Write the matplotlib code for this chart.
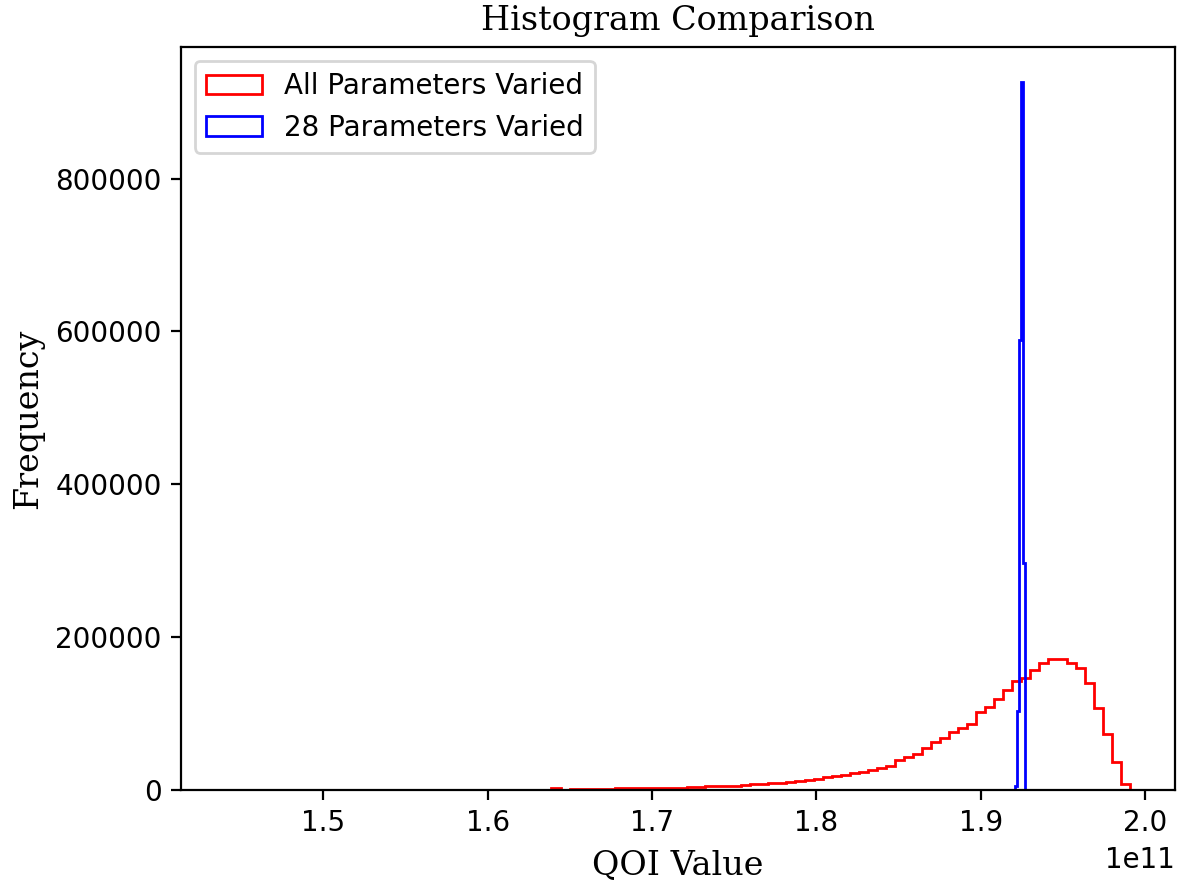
import numpy as np
import matplotlib
matplotlib.use("Agg")
import matplotlib.pyplot as plt

# ---- data ----
red_label = "All Parameters Varied"
blue_label = "28 Parameters Varied"

red_min = 1.441e11
red_max = 1.9906e11
red_counts = [
    300, 0, 0, 0, 0, 0, 0, 0, 0, 0,
    0, 100, 0, 0, 0, 0, 0, 0, 0, 0,
    0, 0, 0, 0, 200, 0, 0, 0, 0, 0,
    300, 0, 0, 0, 400, 500, 3000, 0, 1400, 1500,
    1700, 1800, 1800, 2000, 2100, 2300, 2300, 2500, 2600, 2800,
    2900, 4300, 4500, 4700, 4900, 5100, 5400, 7000, 7400, 7800,
    9400, 9800, 10200, 12000, 12600, 15000, 17500, 18200, 20000, 22300,
    24200, 26300, 29000, 32000, 39000, 43000, 46500, 55300, 63100, 68300,
    76200, 81400, 86700, 101900, 108400, 119400, 130300, 142100, 146400, 156500,
    166500, 172000, 171500, 166500, 160000, 140400, 107600, 72700, 36400, 7200,
]

blue_edges = [1.92060e11, 1.92175e11, 1.92300e11, 1.92440e11, 1.92580e11, 1.92710e11]
blue_counts = [5000, 104000, 589000, 926000, 297000]

# ---- figure ----
fig = plt.figure(figsize=(11.79 / 2, 8.82 / 2), dpi=200)
ax = fig.add_axes([181 / 1179, 1 - 790 / 882, (1175 - 181) / 1179, (790 - 47) / 882])

red_edges = np.linspace(red_min, red_max, len(red_counts) + 1)
red_centers = 0.5 * (red_edges[:-1] + red_edges[1:])
be = np.array(blue_edges)
blue_centers = 0.5 * (be[:-1] + be[1:])

ax.hist(red_centers, bins=red_edges, weights=red_counts, histtype="step",
        color="red", label=red_label)
ax.hist(blue_centers, bins=be, weights=blue_counts, histtype="step",
        color="blue", label=blue_label)

ax.set_title("Histogram Comparison", family="DejaVu Serif", fontsize=12)
ax.set_xlabel("QOI Value", family="DejaVu Serif", fontsize=12)
ax.set_ylabel("Frequency", family="DejaVu Serif", fontsize=12)
ax.legend(loc="upper left")

fig.savefig("out.png", dpi=200)
